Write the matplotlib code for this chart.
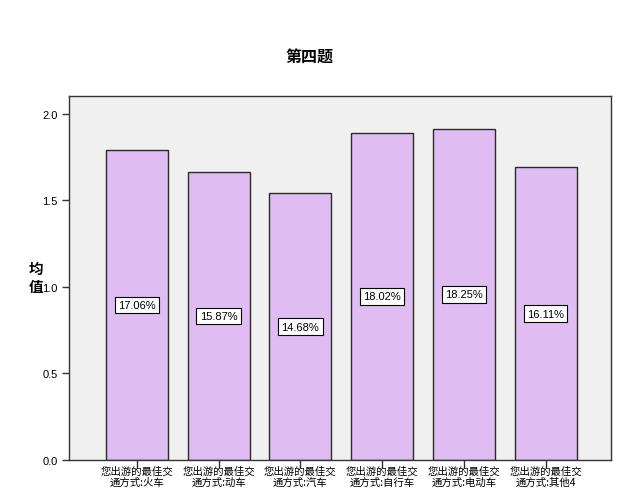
import matplotlib
import matplotlib.pyplot as plt

matplotlib.use("agg")
plt.rcParams["font.family"] = ["Noto Sans CJK SC", "DejaVu Sans"]

categories = [
    "您出游的最佳交\n通方式:火车",
    "您出游的最佳交\n通方式:动车",
    "您出游的最佳交\n通方式:汽车",
    "您出游的最佳交\n通方式:自行车",
    "您出游的最佳交\n通方式:电动车",
    "您出游的最佳交\n通方式:其他4",
]
means = [1.792, 1.666, 1.541, 1.892, 1.916, 1.692]
percent_labels = ["17.06%", "15.87%", "14.68%", "18.02%", "18.25%", "16.11%"]
yticks = [0.0, 0.5, 1.0, 1.5, 2.0]

fig = plt.figure(figsize=(6.27, 5.02), dpi=100)
ax = fig.add_axes([0.110, 0.0817, 0.8645, 0.7251])
ax.set_facecolor("#F0F0F0")

x = list(range(len(categories)))
ax.bar(x, means, width=0.76, color="#DFBCF1", edgecolor="#2a2a2a", linewidth=1.0)

for xi, m, lab in zip(x, means, percent_labels):
    ax.text(xi, m / 2, lab, ha="center", va="center", fontsize=8,
            family=["Liberation Sans"],
            bbox=dict(boxstyle="square,pad=0.3", facecolor="white",
                      edgecolor="black", linewidth=0.8))

ax.set_xlim(-0.83, 5.8)
ax.set_ylim(0, 2.104)
ax.set_yticks(yticks)
ax.set_yticklabels(["0.0", "0.5", "1.0", "1.5", "2.0"], family=["Liberation Sans"])
ax.set_xticks(x)
ax.set_xticklabels(categories, fontsize=7.5, linespacing=1.15)
ax.tick_params(axis="y", labelsize=8, length=5, width=1, color="#333333", pad=3)
ax.tick_params(axis="x", length=5, width=1, color="#333333", pad=-1)
for s in ax.spines.values():
    s.set_color("#333333")
    s.set_linewidth(1.0)

fig.text(0.494, 0.886, "第四题", ha="center", va="center", fontsize=11.5,
         fontweight="bold")
fig.text(0.058, 0.446, "均\n值", ha="center", va="center", fontsize=10.5,
         fontweight="bold", linespacing=1.2)

fig.savefig("out.png", dpi=100)
